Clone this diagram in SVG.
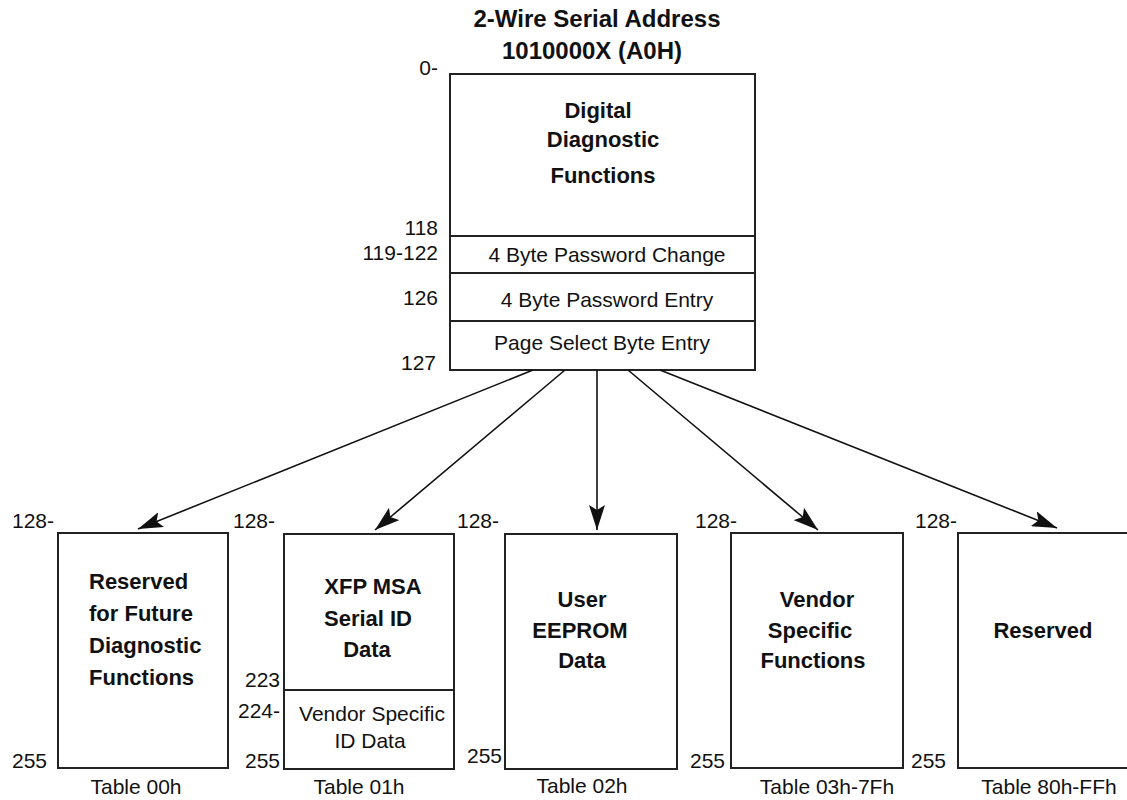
<svg xmlns="http://www.w3.org/2000/svg" width="1127" height="800" viewBox="0 0 1127 800">
<style>
text{font-family:"Liberation Sans",Arial,sans-serif;fill:#111}
.r{font-size:21px}
.b{font-size:22px;font-weight:bold}
.t{font-size:24px;font-weight:bold}
.m{text-anchor:middle}
.e{text-anchor:end}
.box{fill:#fff;stroke:#222;stroke-width:2}
.div{stroke:#222;stroke-width:2}
.con{stroke:#111;stroke-width:1.6;fill:none}
</style>
<defs>
<marker id="ah" markerWidth="26" markerHeight="16" refX="25" refY="8" orient="auto" markerUnits="userSpaceOnUse">
<path d="M0,0 L25,8 L0,16 L5,8 Z" fill="#111"/>
</marker>
</defs>
<rect width="1127" height="800" fill="#fff"/>

<g id="title">
<text class="t m" x="597" y="27">2-Wire Serial Address</text>
<text class="t m" x="592" y="59">1010000X (A0H)</text>
</g>

<g id="a0-map">
<rect class="box" x="450" y="74" width="305" height="296"/>
<line class="div" x1="450" y1="236" x2="755" y2="236"/>
<line class="div" x1="450" y1="273" x2="755" y2="273"/>
<line class="div" x1="450" y1="321" x2="755" y2="321"/>
<text class="b m" x="598" y="118">Digital</text>
<text class="b m" x="603" y="147">Diagnostic</text>
<text class="b m" x="603" y="183">Functions</text>
<text class="r m" x="607" y="262">4 Byte Password Change</text>
<text class="r m" x="607" y="307">4 Byte Password Entry</text>
<text class="r m" x="602" y="350">Page Select Byte Entry</text>
<text class="r e" x="438" y="75">0-</text>
<text class="r e" x="438" y="235">118</text>
<text class="r e" x="438" y="260">119-122</text>
<text class="r e" x="438" y="305">126</text>
<text class="r e" x="436" y="370">127</text>
</g>

<g id="connectors">
<line class="con" x1="533" y1="370" x2="138" y2="529" marker-end="url(#ah)"/>
<line class="con" x1="565" y1="370" x2="375" y2="530" marker-end="url(#ah)"/>
<line class="con" x1="597" y1="370" x2="597" y2="530" marker-end="url(#ah)"/>
<line class="con" x1="628" y1="370" x2="818" y2="530" marker-end="url(#ah)"/>
<line class="con" x1="660" y1="370" x2="1057" y2="528" marker-end="url(#ah)"/>
</g>

<g id="table00">
<rect class="box" x="58" y="533" width="170" height="235"/>
<text class="b" x="89" y="589">Reserved</text>
<text class="b" x="89" y="621">for Future</text>
<text class="b" x="89" y="653">Diagnostic</text>
<text class="b" x="89" y="685">Functions</text>
<text class="r" x="12" y="528">128-</text>
<text class="r" x="12" y="768">255</text>
<text class="r m" x="136" y="794">Table 00h</text>
</g>

<g id="table01">
<rect class="box" x="284" y="534" width="170" height="235"/>
<line class="div" x1="284" y1="690" x2="454" y2="690"/>
<text class="b m" x="373" y="594">XFP MSA</text>
<text class="b m" x="368" y="626">Serial ID</text>
<text class="b m" x="367" y="657">Data</text>
<text class="r m" x="372" y="721">Vendor Specific</text>
<text class="r m" x="370" y="748">ID Data</text>
<text class="r" x="233" y="528">128-</text>
<text class="r e" x="280" y="687">223</text>
<text class="r e" x="280" y="718">224-</text>
<text class="r e" x="280" y="768">255</text>
<text class="r m" x="359" y="794">Table 01h</text>
</g>

<g id="table02">
<rect class="box" x="505" y="534" width="172" height="235"/>
<text class="b m" x="582" y="607">User</text>
<text class="b m" x="580" y="638">EEPROM</text>
<text class="b m" x="582" y="668">Data</text>
<text class="r" x="457" y="528">128-</text>
<text class="r e" x="502" y="763">255</text>
<text class="r m" x="582" y="793">Table 02h</text>
</g>

<g id="table03">
<rect class="box" x="731" y="533" width="172" height="235"/>
<text class="b m" x="817" y="607">Vendor</text>
<text class="b m" x="810" y="638">Specific</text>
<text class="b m" x="813" y="668">Functions</text>
<text class="r" x="695" y="528">128-</text>
<text class="r e" x="725" y="768">255</text>
<text class="r m" x="827" y="794">Table 03h-7Fh</text>
</g>

<g id="table80">
<rect class="box" x="958" y="533" width="172" height="235"/>
<text class="b m" x="1043" y="638">Reserved</text>
<text class="r" x="915" y="528">128-</text>
<text class="r e" x="946" y="768">255</text>
<text class="r m" x="1049" y="794">Table 80h-FFh</text>
</g>
</svg>
